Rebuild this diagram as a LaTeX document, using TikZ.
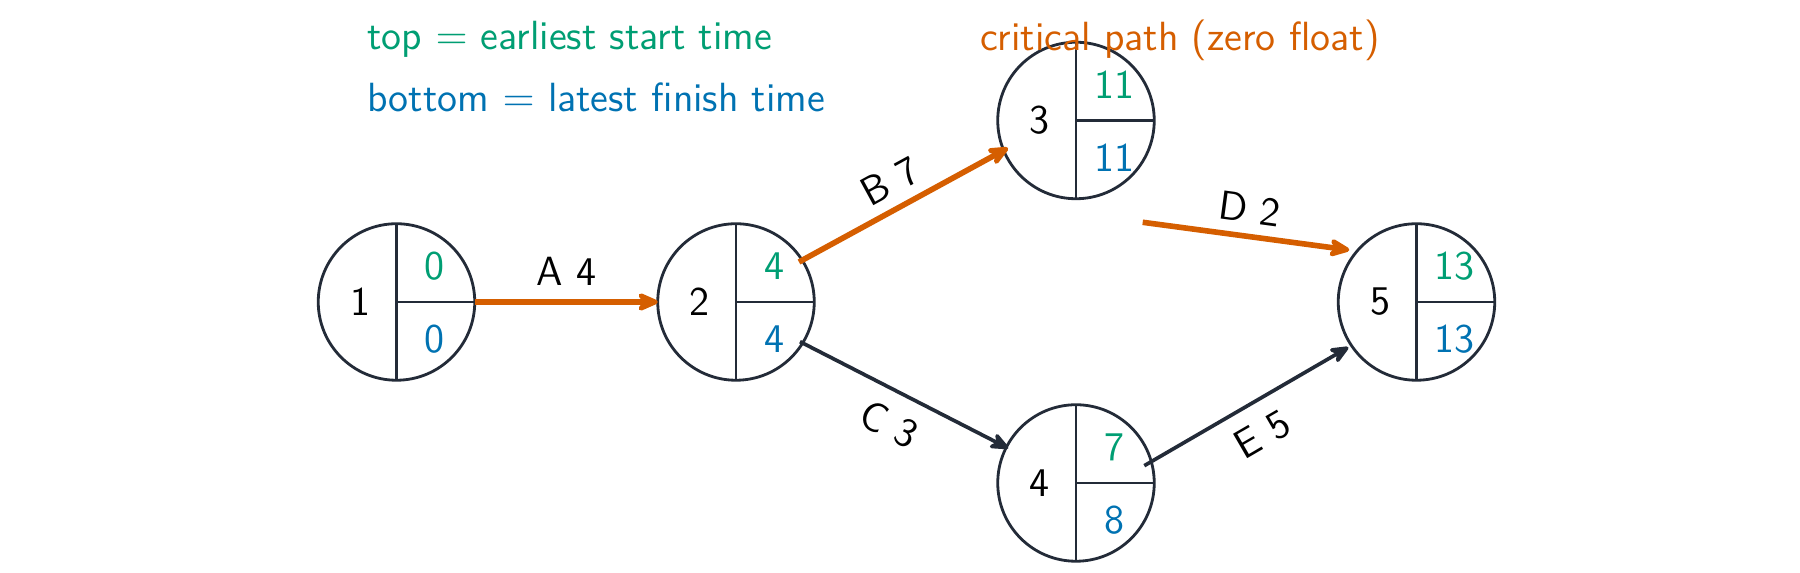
\documentclass[tikz,border=0pt]{standalone}
\usetikzlibrary{arrows.meta,calc}
\definecolor{ink}{HTML}{232B38}
\definecolor{cgreen}{HTML}{009E73}
\definecolor{cblue}{HTML}{0072B2}
\definecolor{corange}{HTML}{D55E00}
\newcommand\evnode[5]{%
  \node[event] (#1) at (#2) {};
  \draw[ink, line width=0.8pt] (#1.north) -- (#1.south) (#1.center) -- (#1.east);
  \node[text=black] (#1-id) at ($(#1.center)+(-0.365,0)$) {#3};
  \node[text=cgreen] (#1-es) at ($(#1.center)+(0.38,0.36)$) {#4};
  \node[text=cblue] (#1-lf) at ($(#1.center)+(0.38,-0.37)$) {#5};
}
\begin{document}
\begin{tikzpicture}[
  font=\sffamily\fontsize{11.6}{13.9}\selectfont,
  event/.style={circle, draw=ink, line width=0.8pt, minimum size=1.565cm, inner sep=0pt, outer sep=0pt},
  crit/.style={draw=corange, line width=1.6pt, -{Stealth[length=7.6pt,width=6.6pt,inset=2.4pt,round]}},
  act/.style={draw=ink, line width=1.05pt, -{Stealth[length=6.8pt,width=5.8pt,inset=2.2pt,round]}},
  lbl/.style={sloped, midway, text=black},
  legend/.style={anchor=base west, inner sep=0pt},
]
\useasboundingbox (0,0) rectangle (18,-5.73);

\evnode{n1}{3.965,-3.02}{1}{0}{0}
\evnode{n2}{7.36,-3.02}{2}{4}{4}
\evnode{n3}{10.76,-1.205}{3}{11}{11}
\evnode{n4}{10.76,-4.83}{4}{7}{8}
\evnode{n5}{14.165,-3.02}{5}{13}{13}

\draw[crit] (n1.east) -- node[lbl, above=0.6pt] (lA) {A 4} (n2.west);
\draw[crit] ($(n2.center)+(0.63,0.40)$) -- node[lbl, above=-0.3pt] (lB) {B 7} ($(n3.center)+(-0.68,-0.275)$);
\draw[act] ($(n2.center)+(0.64,-0.397)$) -- node[lbl, below=1.2pt] (lC) {C 3} ($(n4.center)+(-0.677,0.347)$);
\draw[crit] ($(n3.center)+(0.667,-1.018)$) -- node[lbl, above=-0.3pt] (lD) {D 2} ($(n5.center)+(-0.672,0.52)$);
\draw[act] ($(n4.center)+(0.683,0.173)$) -- node[lbl, below=1.2pt] (lE) {E 5} ($(n5.center)+(-0.682,-0.453)$);

\node[legend, text=cgreen] (leg1) at (3.667,-0.495) {top $=$ earliest start time};
\node[legend, text=cblue] (leg2) at (3.667,-1.12) {bottom $=$ latest finish time};
\node[legend, text=corange] (leg3) at (9.793,-0.505) {critical path (zero float)};
\end{tikzpicture}
\end{document}
